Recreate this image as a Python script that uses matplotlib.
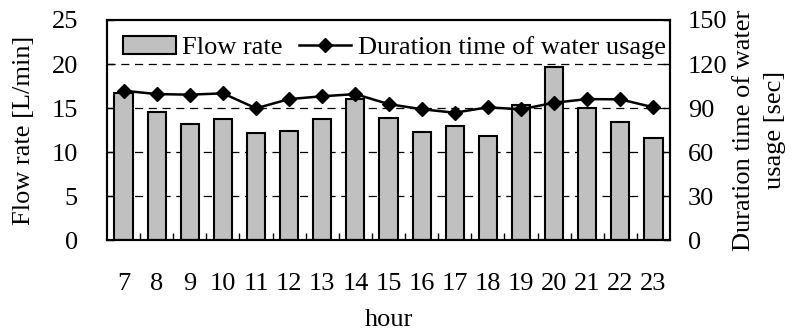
import matplotlib.pyplot as plt
import numpy as np

hours = [7, 8, 9, 10, 11, 12, 13, 14, 15, 16, 17, 18, 19, 20, 21, 22, 23]
flow_rate = [16.7, 14.5, 13.2, 13.8, 12.2, 12.4, 13.7, 16.0, 13.9, 12.3, 13.0, 11.8, 15.3, 19.7, 15.0, 13.4, 11.6]
duration = [101.8, 99.5, 99.1, 100.0, 89.8, 96.1, 98.0, 99.5, 92.7, 89.2, 86.8, 90.5, 89.1, 93.6, 96.1, 95.9, 90.5]

plt.rcParams['font.family'] = ['Liberation Serif', 'DejaVu Serif']
plt.rcParams['font.size'] = 19

fig = plt.figure(figsize=(7.94, 3.33), dpi=100)
ax = fig.add_axes([0.1348, 0.279, 0.709, 0.661])
x = np.arange(len(hours))

ax.bar(x, flow_rate, width=0.55, color='#c0c0c0', edgecolor='black', linewidth=1.5,
       label='Flow rate', zorder=2)
# dashed grid lines of the left axis
for g in [5, 10, 15, 20]:
    ax.axhline(g, color='black', linestyle=(0, (6.5, 4.5)), linewidth=0.9, zorder=1)

ax.set_xlim(-0.5, len(hours) - 0.5)
ax.set_ylim(0, 25)
ax.set_yticks([0, 5, 10, 15, 20, 25])
ax.set_xticks(x)
ax.set_xticklabels([str(h) for h in hours])
ax.set_xticks(x[:-1] + 0.5, minor=True)
ax.tick_params(axis='x', which='major', length=0, pad=23.5)
ax.tick_params(axis='x', which='minor', direction='in', length=5, width=1)
ax.tick_params(axis='y', direction='in', length=5, width=1, pad=21)
ax.set_xlabel('hour', labelpad=10)
ax.set_ylabel('Flow rate [L/min]', labelpad=12)
for s in ax.spines.values():
    s.set_linewidth(1.5)

ax2 = ax.twinx()
ax2.plot(x, duration, color='black', linewidth=1.8, marker='D', markersize=7.5,
         label='Duration time of water usage', zorder=3)
ax2.set_ylim(0, 150)
ax2.set_yticks([0, 30, 60, 90, 120, 150])
ax2.tick_params(axis='y', direction='in', length=5, width=1, pad=13)
ax2.set_ylabel('Duration time of water\nusage [sec]', labelpad=4, linespacing=1.5)
for s in ax2.spines.values():
    s.set_linewidth(1.5)

h1, l1 = ax.get_legend_handles_labels()
h2, l2 = ax2.get_legend_handles_labels()
ax2.legend(h1 + h2, l1 + l2, loc='upper left', ncol=2, frameon=False,
           handlelength=2.0, handletextpad=0.25, columnspacing=0.6,
           borderaxespad=0.2, bbox_to_anchor=(0.0, 1.0))

fig.savefig('out.png', dpi=100)
